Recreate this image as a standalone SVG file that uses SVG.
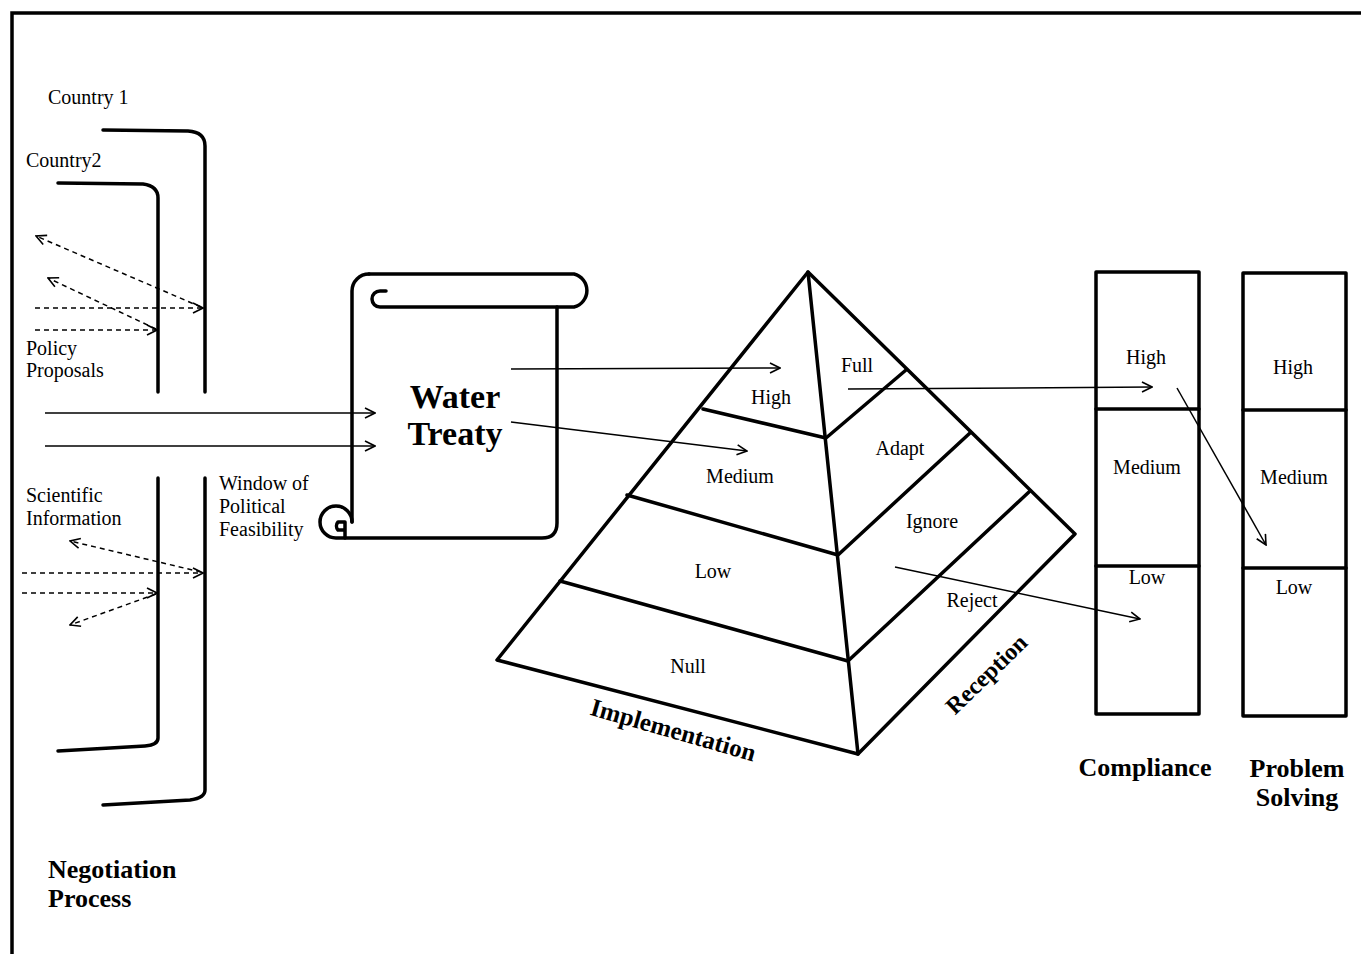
<svg xmlns="http://www.w3.org/2000/svg" width="1361" height="954" viewBox="0 0 1361 954">
<style>
.t{font-family:"Liberation Serif","Times New Roman",serif;font-size:20px;fill:#000}
.b{font-family:"Liberation Serif","Times New Roman",serif;font-weight:bold;fill:#000}
.thick{fill:none;stroke:#000;stroke-width:3.5;stroke-linecap:round;stroke-linejoin:round}
.thin{fill:none;stroke:#000;stroke-width:1.5}
.dash{fill:none;stroke:#000;stroke-width:1.5;stroke-dasharray:5,4}
</style>
<defs>
<marker id="ah" viewBox="0 0 12 12" refX="11" refY="6" markerWidth="12" markerHeight="12" markerUnits="userSpaceOnUse" orient="auto">
<path d="M1,1 L11,6 L1,11" fill="none" stroke="#000" stroke-width="1.6"/>
</marker>
</defs>
<rect width="1361" height="954" fill="#fff"/>
<g id="frame">
<path d="M12,954 L12,13 L1361,13" fill="none" stroke="#000" stroke-width="3.5"/>
</g>
<g id="country1">
<text class="t" x="48" y="104">Country 1</text>
<path class="thick" d="M103,130 L188,131 Q205,132 205,146 L205,392"/>
<path class="thick" d="M205,478 L205,790 Q205,798 190,800 L103,805"/>
</g>
<g id="country2">
<text class="t" x="26" y="167">Country2</text>
<path class="thick" d="M58,183 L143,184 Q158,186 158,198 L158,392"/>
<path class="thick" d="M158,478 L158,738 Q158,745 145,746 L58,751"/>
</g>
<g id="policy">
<text class="t" x="26" y="355">Policy</text>
<text class="t" x="26" y="377">Proposals</text>
</g>
<g id="science">
<text class="t" x="26" y="502">Scientific</text>
<text class="t" x="26" y="525">Information</text>
</g>
<g id="window">
<text class="t" x="219" y="490">Window of</text>
<text class="t" x="219" y="513">Political</text>
<text class="t" x="219" y="536">Feasibility</text>
</g>
<g id="negotiation">
<text class="b" x="48" y="878" font-size="26">Negotiation</text>
<text class="b" x="48" y="907" font-size="26">Process</text>
</g>
<g id="treaty">
<path class="thick" d="M369,274 L574,274 A17,17 0 0 1 574,307 L380,307 A8,8 0 0 1 380,291 L386,291"/>
<path class="thick" d="M369,274 A17,17 0 0 0 352,291 L352,522"/>
<path class="thick" d="M557,307 L557,523 Q557,538 542,538 L336,538 A16,16 0 1 1 352,522"/>
<path class="thick" d="M345,538 L345,522 L338,522 A6,6 0 0 0 338,530 L344,530" stroke-width="3"/>
<text class="b" x="455" y="408" font-size="34" text-anchor="middle">Water</text>
<text class="b" x="455" y="445" font-size="34" text-anchor="middle">Treaty</text>
</g>
<g id="pyramid">
<path class="thick" d="M808,272 L497,660 L858,754 L1075,534 Z"/>
<path class="thick" d="M808,272 L858,754"/>
<path class="thick" d="M703,409 L826,438 L906,370"/>
<path class="thick" d="M627,495 L838,555 L970,433"/>
<path class="thick" d="M560,581 L848,661 L1030,491"/>
<text class="t" x="771" y="404" text-anchor="middle">High</text>
<text class="t" x="740" y="483" text-anchor="middle">Medium</text>
<text class="t" x="713" y="578" text-anchor="middle">Low</text>
<text class="t" x="688" y="673" text-anchor="middle">Null</text>
<text class="t" x="857" y="372" text-anchor="middle">Full</text>
<text class="t" x="900" y="455" text-anchor="middle">Adapt</text>
<text class="t" x="932" y="528" text-anchor="middle">Ignore</text>
<text class="t" x="972" y="607" text-anchor="middle">Reject</text>
<text class="b" font-size="25" text-anchor="middle" transform="translate(671,738) rotate(16)">Implementation</text>
<text class="b" font-size="24" text-anchor="middle" transform="translate(992,680) rotate(-44)">Reception</text>
</g>
<g id="compliance">
<rect class="thick" x="1096" y="272" width="103" height="442" stroke-linecap="butt" stroke-linejoin="miter"/>
<path class="thick" d="M1096,409 L1199,409 M1096,566 L1199,566"/>
<text class="t" x="1146" y="364" text-anchor="middle">High</text>
<text class="t" x="1147" y="474" text-anchor="middle">Medium</text>
<text class="t" x="1147" y="584" text-anchor="middle">Low</text>
<text class="b" x="1145" y="776" font-size="26" text-anchor="middle">Compliance</text>
</g>
<g id="problem-solving">
<rect class="thick" x="1243" y="273" width="103" height="443" stroke-linecap="butt" stroke-linejoin="miter"/>
<path class="thick" d="M1243,410 L1346,410 M1243,568 L1346,568"/>
<text class="t" x="1293" y="374" text-anchor="middle">High</text>
<text class="t" x="1294" y="484" text-anchor="middle">Medium</text>
<text class="t" x="1294" y="594" text-anchor="middle">Low</text>
<text class="b" x="1297" y="777" font-size="26" text-anchor="middle">Problem</text>
<text class="b" x="1297" y="806" font-size="26" text-anchor="middle">Solving</text>
</g>
<g id="connectors">
<path class="dash" d="M201,307 L36,236" marker-end="url(#ah)"/>
<path class="dash" d="M35,308 L203,308" marker-end="url(#ah)"/>
<path class="dash" d="M156,329 L48,278" marker-end="url(#ah)"/>
<path class="dash" d="M35,330 L157,330" marker-end="url(#ah)"/>
<path class="dash" d="M201,572 L70,541" marker-end="url(#ah)"/>
<path class="dash" d="M22,573 L203,573" marker-end="url(#ah)"/>
<path class="dash" d="M22,593 L157,593" marker-end="url(#ah)"/>
<path class="dash" d="M156,594 L70,625" marker-end="url(#ah)"/>
<path class="thin" d="M45,413 L375,413" marker-end="url(#ah)"/>
<path class="thin" d="M45,446 L375,446" marker-end="url(#ah)"/>
<path class="thin" d="M511,369 L780,368" marker-end="url(#ah)"/>
<path class="thin" d="M511,422 L747,451" marker-end="url(#ah)"/>
<path class="thin" d="M848,389 L1152,387" marker-end="url(#ah)"/>
<path class="thin" d="M895,567 L1140,619" marker-end="url(#ah)"/>
<path class="thin" d="M1177,388 L1266,545" marker-end="url(#ah)"/>
</g>
</svg>
